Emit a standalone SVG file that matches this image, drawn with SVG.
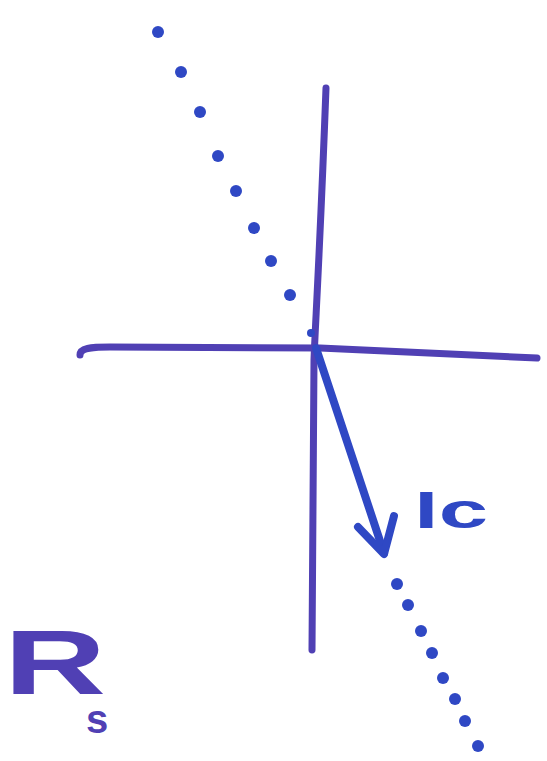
<svg xmlns="http://www.w3.org/2000/svg" width="547" height="761" viewBox="0 0 547 761">
<style>
.axis{fill:none;stroke:#5040b4;stroke-width:7;stroke-linecap:round;stroke-linejoin:round}
.vec{fill:none;stroke:#2f48c4;stroke-width:8;stroke-linecap:round;stroke-linejoin:round}
.dot{fill:#2f48c4}
.lbl{font-family:"Liberation Sans",Arial,sans-serif;font-weight:bold}
</style>
<rect width="547" height="761" fill="#fff"/>
<g id="axes">
<path class="axis" d="M326,88 C320,250 315,330 314,360 C313,460 312,560 312,650"/>
<path class="axis" d="M80,355 C80,348 90,347 110,347 L320,348 L537,358"/>
</g>
<g id="connectors">
<path class="vec" d="M316,348 L384,553"/>
<path class="vec" d="M358,527 L384,554 L394,516"/>
<g id="dots">
<circle class="dot" cx="158" cy="32" r="6"/>
<circle class="dot" cx="181" cy="72" r="6"/>
<circle class="dot" cx="200" cy="112" r="6"/>
<circle class="dot" cx="218" cy="156" r="6"/>
<circle class="dot" cx="236" cy="191" r="6"/>
<circle class="dot" cx="254" cy="228" r="6"/>
<circle class="dot" cx="271" cy="261" r="6"/>
<circle class="dot" cx="290" cy="295" r="6"/>
<circle class="dot" cx="311" cy="333" r="4"/>
<circle class="dot" cx="397" cy="584" r="6"/>
<circle class="dot" cx="408" cy="605" r="6"/>
<circle class="dot" cx="421" cy="631" r="6"/>
<circle class="dot" cx="432" cy="653" r="6"/>
<circle class="dot" cx="443" cy="678" r="6"/>
<circle class="dot" cx="455" cy="699" r="6"/>
<circle class="dot" cx="465" cy="721" r="6"/>
<circle class="dot" cx="478" cy="746" r="6"/>
</g>
</g>
<g id="label-lc">
<text class="lbl" x="414" y="528" font-size="50" fill="#2f48c4" textLength="74" lengthAdjust="spacingAndGlyphs">lc</text>
</g>
<g id="label-rs">
<text class="lbl" x="4" y="694" font-size="90" fill="#5040b4" textLength="102" lengthAdjust="spacingAndGlyphs">R</text>
<text class="lbl" x="86" y="733" font-size="40" fill="#5040b4">s</text>
</g>
</svg>
